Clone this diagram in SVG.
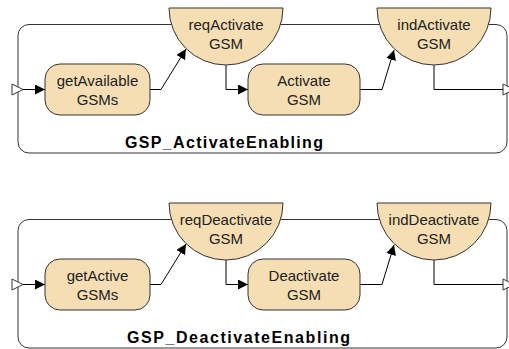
<svg xmlns="http://www.w3.org/2000/svg" width="509" height="349" viewBox="0 0 509 349">
<defs>
<marker id="arr" viewBox="0 0 10 10" refX="10" refY="5" markerWidth="10" markerHeight="10" markerUnits="userSpaceOnUse" orient="auto">
<path d="M0,0 L10,5 L0,10 Z" fill="#000"/>
</marker>
<style>
.frame{fill:none;stroke:#333;stroke-width:1}
.node{fill:#F5DEB3;stroke:#333;stroke-width:1}
.conn{fill:none;stroke:#000;stroke-width:1}
.port{fill:#fff;stroke:#333;stroke-width:1}
.t{font-family:"Liberation Sans",Arial,sans-serif;font-size:15px;fill:#222;text-anchor:middle}
.lbl{font-family:"Liberation Sans",Arial,sans-serif;font-size:16px;font-weight:bold;fill:#000}
</style>
</defs>

<g id="activate">
  <rect class="frame" x="18" y="24.5" width="489" height="128.5" rx="11"/>
  <text class="lbl" x="125" y="148" textLength="198" lengthAdjust="spacing">GSP_ActivateEnabling</text>
  <g id="connectors-activate">
    <path class="conn" d="M23,89.5 H45" marker-end="url(#arr)"/>
    <path class="conn" d="M150,89.5 H161 L186,49" marker-end="url(#arr)"/>
    <path class="conn" d="M226,65 V89.5 H248" marker-end="url(#arr)"/>
    <path class="conn" d="M360,89.5 H382 L394,50" marker-end="url(#arr)"/>
    <path class="conn" d="M434,65 V89.5 H503"/>
  </g>
  <g id="start-activate"><path class="port" d="M12,84 L23,89.5 L12,95 Z"/></g>
  <g id="end-activate"><path class="port" d="M503,84 L514,89.5 L503,95 Z"/></g>
  <g id="getAvailableGSMs">
    <rect class="node" x="45" y="64" width="105" height="51" rx="15"/>
    <text class="t" x="97.5" y="86">getAvailable</text>
    <text class="t" x="97.5" y="104.5">GSMs</text>
  </g>
  <g id="reqActivateGSM">
    <path class="node" d="M169,8 H283 A57,57 0 0 1 169,8 Z"/>
    <text class="t" x="226" y="30">reqActivate</text>
    <text class="t" x="226" y="48.5">GSM</text>
  </g>
  <g id="ActivateGSM">
    <rect class="node" x="248" y="64" width="112" height="51" rx="15"/>
    <text class="t" x="304" y="86">Activate</text>
    <text class="t" x="304" y="104.5">GSM</text>
  </g>
  <g id="indActivateGSM">
    <path class="node" d="M377,8 H491 A57,57 0 0 1 377,8 Z"/>
    <text class="t" x="434" y="30">indActivate</text>
    <text class="t" x="434" y="48.5">GSM</text>
  </g>
</g>

<g id="deactivate" transform="translate(0,195)">
  <rect class="frame" x="18" y="24.5" width="489" height="128.5" rx="11"/>
  <text class="lbl" x="127" y="148" textLength="223" lengthAdjust="spacing">GSP_DeactivateEnabling</text>
  <g id="connectors-deactivate">
    <path class="conn" d="M23,89.5 H45" marker-end="url(#arr)"/>
    <path class="conn" d="M150,89.5 H161 L186,49" marker-end="url(#arr)"/>
    <path class="conn" d="M226,65 V89.5 H248" marker-end="url(#arr)"/>
    <path class="conn" d="M360,89.5 H382 L394,50" marker-end="url(#arr)"/>
    <path class="conn" d="M434,65 V89.5 H503"/>
  </g>
  <g id="start-deactivate"><path class="port" d="M12,84 L23,89.5 L12,95 Z"/></g>
  <g id="end-deactivate"><path class="port" d="M503,84 L514,89.5 L503,95 Z"/></g>
  <g id="getActiveGSMs">
    <rect class="node" x="45" y="64" width="105" height="51" rx="15"/>
    <text class="t" x="97.5" y="86">getActive</text>
    <text class="t" x="97.5" y="104.5">GSMs</text>
  </g>
  <g id="reqDeactivateGSM">
    <path class="node" d="M169,8 H283 A57,57 0 0 1 169,8 Z"/>
    <text class="t" x="226" y="30">reqDeactivate</text>
    <text class="t" x="226" y="48.5">GSM</text>
  </g>
  <g id="DeactivateGSM">
    <rect class="node" x="248" y="64" width="112" height="51" rx="15"/>
    <text class="t" x="304" y="86">Deactivate</text>
    <text class="t" x="304" y="104.5">GSM</text>
  </g>
  <g id="indDeactivateGSM">
    <path class="node" d="M377,8 H491 A57,57 0 0 1 377,8 Z"/>
    <text class="t" x="434" y="30">indDeactivate</text>
    <text class="t" x="434" y="48.5">GSM</text>
  </g>
</g>
</svg>
